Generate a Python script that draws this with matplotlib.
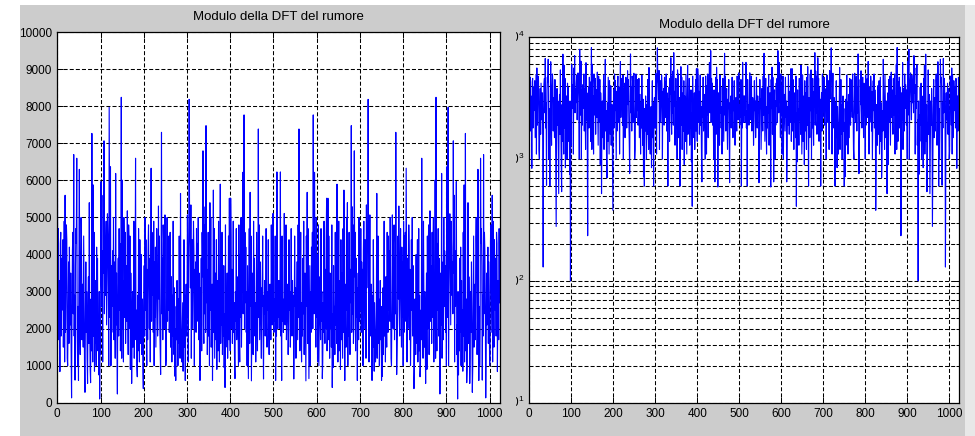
import numpy as np
import matplotlib.pyplot as plt
from matplotlib.patches import Rectangle
from matplotlib.transforms import Bbox, TransformedBbox, blended_transform_factory

plt.rcParams["font.family"] = ["Liberation Sans", "DejaVu Sans"]
plt.rcParams["lines.scale_dashes"] = False
plt.rcParams["mathtext.fontset"] = "custom"
plt.rcParams["mathtext.rm"] = "Liberation Sans"
plt.rcParams["mathtext.it"] = "Liberation Sans:italic"

titolo = "Modulo della DFT del rumore"

# |X[k]| per k = 0..512; il resto dello spettro e' simmetrico (|X[k]| = |X[N-k]|)
modulo_meta = [
    9000, 2700, 4700, 1700, 3300, 2600, 840, 4300, 4600, 1800, 3900, 2500, 3100, 4400, 1500, 2800, 4900, 1100, 5600, 1900,
    3400, 4800, 4400, 1200, 1000, 2300, 3800, 1600, 4200, 2900, 2100, 3500, 1400, 130, 2600, 4100, 4600, 2400, 6700, 1800,
    2900, 610, 3700, 4700, 4300, 6600, 1900, 1000, 2600, 600, 3400, 6300, 2200, 1300, 3900, 5000, 4400, 1700, 3200, 2400,
    1500, 4500, 2700, 980, 280, 2300, 3800, 1900, 3000, 1200, 520, 2600, 3400, 1600, 5400, 2100, 900, 540, 2800, 1400,
    7270, 2200, 1100, 5880, 1800, 4600, 850, 2500, 1600, 3300, 1000, 4200, 1900, 3900, 1400, 2300, 750, 3000, 100, 2100,
    1300, 5970, 3200, 2600, 4100, 1100, 5600, 3500, 7070, 2400, 3800, 2900, 4200, 4900, 2100, 3600, 5100, 4500, 3100, 1000,
    7975, 4800, 2300, 6370, 1000, 3700, 1900, 3300, 4100, 2600, 5000, 1700, 3800, 2400, 1200, 6190, 2100, 3500, 1500, 235,
    2800, 3900, 1800, 4700, 2500, 4300, 1400, 2900, 8245, 1200, 6010, 2000, 3300, 1100, 5000, 4000, 2300, 4600, 1600, 2900,
    3700, 2200, 5180, 2600, 1300, 4800, 4200, 2000, 4500, 900, 3500, 2400, 520, 1900, 3000, 1500, 2700, 4900, 1200, 2300,
    3300, 6600, 1700, 2500, 1000, 700, 2900, 1400, 4700, 2100, 1100, 4400, 2400, 1600, 4000, 1300, 2200, 2800, 900, 380,
    2600, 3700, 1800, 5000, 2500, 4400, 2100, 1000, 3600, 1700, 4100, 4800, 3300, 2000, 3900, 1100, 3400, 6330, 2200, 4600,
    2900, 4500, 1900, 4900, 1000, 3800, 2300, 4200, 1500, 3000, 4700, 3500, 1800, 2500, 5310, 2800, 4500, 2100, 1400, 760,
    3300, 7300, 2400, 3900, 1700, 4800, 4300, 2000, 3100, 5070, 2600, 1000, 1200, 2800, 5000, 2200, 4100, 2500, 4500, 1900,
    2700, 4600, 1500, 2300, 3400, 1100, 2900, 1800, 4900, 2400, 1300, 3100, 715, 2000, 600, 2600, 1700, 3300, 2200, 1000,
    2800, 1600, 4500, 2100, 1200, 5650, 2500, 1400, 1100, 1900, 2700, 850, 2300, 4400, 1500, 2900, 600, 2400, 3200, 1800,
    2600, 5070, 3400, 1100, 3900, 8190, 4700, 4200, 3100, 5340, 1200, 3700, 4400, 2000, 3300, 4900, 4100, 1000, 3600, 2700,
    3800, 1900, 4700, 2500, 4300, 2200, 5000, 1700, 3500, 2600, 600, 3100, 2300, 3900, 1400, 4600, 3400, 6800, 2100, 1600,
    4800, 2400, 5290, 1900, 7480, 2700, 3600, 1300, 2200, 4600, 1800, 2900, 1000, 5400, 2500, 5000, 1500, 2100, 3200, 600,
    2600, 5740, 1900, 4700, 1200, 2400, 3500, 1700, 4400, 900, 3300, 2000, 1400, 4900, 2300, 1100, 2700, 5900, 1600, 3000,
    2100, 4600, 1300, 2600, 1800, 3700, 950, 2400, 410, 4800, 1500, 2800, 2000, 3500, 1200, 2500, 4500, 1700, 5520, 2300,
    1400, 5520, 4500, 2000, 3600, 1600, 2600, 4900, 1900, 2700, 1100, 650, 3000, 2200, 4700, 1700, 2500, 3400, 2100, 1000,
    4800, 1800, 1100, 4000, 2300, 5000, 1500, 2800, 3600, 6220, 2400, 3100, 7770, 2000, 4600, 2700, 4200, 1900, 3000, 1000,
    3700, 2200, 650, 2900, 4700, 1600, 5680, 2600, 4500, 590, 2100, 3500, 2800, 1300, 4900, 2400, 3900, 1800, 2700, 1100,
    2000, 4600, 2500, 1400, 3000, 7390, 2300, 4800, 1700, 2800, 3800, 2100, 1200, 3100, 2600, 4500, 1900, 640, 2900, 2400,
    3300, 1800, 2700, 4700, 2200, 1500, 3000, 2500, 4400, 2000, 1300, 2800, 3200, 2300, 1700, 4800, 2600, 2100, 3000, 5110,
    2400, 1900, 2800, 2200, 4500, 600, 2500, 1800, 6230, 2700, 2000, 3300, 2300,
]
N = 1024
assert len(modulo_meta) == N // 2 + 1

modulo = np.array(modulo_meta + modulo_meta[-2:0:-1], dtype=float)
campioni = np.arange(N)

tick_x = list(range(0, 1001, 100))
tick_y_lin = list(range(0, 10001, 1000))
esponenti_log = [1, 2, 3, 4]

W, H = 975, 436
GRIGIO = "#cccccc"
BLU = "#0000ff"
stile_griglia = dict(color="black", linestyle=(0, (2.9, 1.5)), linewidth=0.75)


def prepara_assi(ax):
    ax.set_facecolor("white")
    for s in ax.spines.values():
        s.set_color("black")
        s.set_linewidth(0.9)
    ax.tick_params(which="both", direction="in", top=True, right=True,
                   length=4, width=0.7, labelsize=8.5, pad=4, colors="black")
    ax.tick_params(which="minor", length=2)
    ax.set_xlim(0, 1024)
    ax.set_xticks(tick_x)


fig = plt.figure(figsize=(W / 100, H / 100), dpi=100, facecolor="white")
fig.patches.append(Rectangle((20 / W, 0), 945 / W, 431 / H, transform=fig.transFigure,
                             facecolor=GRIGIO, edgecolor="none", zorder=-10))
fig.patches.append(Rectangle((965 / W, 0), 10 / W, 431 / H, transform=fig.transFigure,
                             facecolor="#e8e8e8", edgecolor="none", zorder=-10))

# grafico lineare
ax1 = fig.add_axes([57.3 / W, 1 - 402.7 / H, 442.7 / W, 370.4 / H])
prepara_assi(ax1)
ax1.plot(campioni, modulo, color=BLU, linewidth=0.8)
ax1.set_ylim(0, 10000)
ax1.set_yticks(tick_y_lin)
ax1.grid(True, **stile_griglia)
ax1.set_title(titolo, fontsize=9.5, pad=9)

# grafico logaritmico
ax2 = fig.add_axes([529.3 / W, 1 - 402.7 / H, 430 / W, 365.4 / H])
prepara_assi(ax2)
ax2.semilogy(campioni, modulo, color=BLU, linewidth=0.8)
ax2.set_ylim(10, 1e4)
ax2.set_yticks([10.0 ** e for e in esponenti_log])
ax2.set_yticklabels([])
ax2.grid(True, which="both", axis="y", **stile_griglia)
ax2.grid(True, which="major", axis="x", **stile_griglia)
ax2.set_title(titolo, fontsize=9.5, pad=7)

# etichette 10^k tagliate a sinistra come nello screenshot originale
taglio = TransformedBbox(Bbox.from_extents(515.5 / W, 0, 1, 1), fig.transFigure)
trasf = blended_transform_factory(ax2.transAxes, ax2.transData)
for e in esponenti_log:
    t = ax2.text(-4.5 / 430, 10.0 ** e, r"$\mathdefault{10^{%d}}$" % e, transform=trasf,
                 ha="right", va="center", fontsize=8.5, clip_on=True)
    t.set_clip_box(taglio)

fig.savefig("out.png", dpi=100, facecolor=fig.get_facecolor())
